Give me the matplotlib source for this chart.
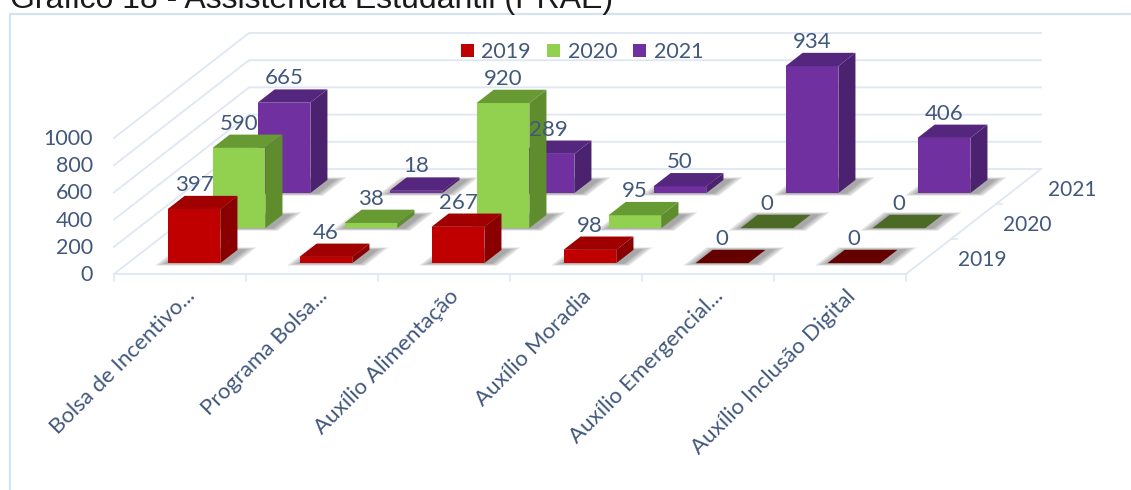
import numpy as np
import matplotlib
matplotlib.use('Agg')
import matplotlib.pyplot as plt
from matplotlib import patches

# data
categories = ['Bolsa de Incentivo...', 'Programa Bolsa...', 'Auxílio Alimentação',
              'Auxílio Moradia', 'Auxílio Emergencial...', 'Auxílio Inclusão Digital']
years = ['2019', '2020', '2021']
values_2019 = [397, 46, 267, 98, 0, 0]
values_2020 = [590, 38, 920, 95, 0, 0]
values_2021 = [665, 18, 289, 50, 934, 406]
y_ticks = [0, 200, 400, 600, 800, 1000]

# front, top, side and empty-bar colours for each year
front_colors = ['#c00000', '#92d050', '#7030a0']
top_colors = ['#a00000', '#689a33', '#55267e']
side_colors = ['#8a0000', '#5f8d2e', '#4b226f']
flat_colors = ['#650000', '#4a6a25', '#55267e']
text_color = '#41587c'
grid_color = '#dfe7f3'

# oblique projection: one depth step moves the point right and up
PX_CAT = 132.0
PX_VAL = 0.136
DX = 45.0 / PX_CAT
DY = 35.0 / PX_VAL
BAR_W = 0.40
BAR_D0 = 0.31
BAR_D1 = 0.69


def project(cat, depth, val):
    return (cat + depth * DX, val + depth * DY)


def draw_bar(ax, cat, s, val, zorder):
    x0 = cat - BAR_W / 2
    x1 = cat + BAR_W / 2
    d0 = s + BAR_D0
    d1 = s + BAR_D1

    # soft shadow on the floor, a few stacked see-through polygons
    for grow in [0.07, 0.05, 0.03, 0.012]:
        foot = [project(x0 - grow, d0 - grow, 0), project(x1 + grow + 0.05, d0 - grow, 0),
                project(x1 + grow + 0.05, d1 + grow, 0), project(x0 - grow, d1 + grow, 0)]
        ax.add_patch(patches.Polygon(foot, closed=True, fc='#555555', ec='none',
                                     alpha=0.16, zorder=zorder))

    if val == 0:
        top = [project(x0, d0, 0), project(x1, d0, 0), project(x1, d1, 0), project(x0, d1, 0)]
        ax.add_patch(patches.Polygon(top, closed=True, fc=flat_colors[s], ec='none', zorder=zorder + 0.1))
        return

    front = [project(x0, d0, 0), project(x1, d0, 0), project(x1, d0, val), project(x0, d0, val)]
    side = [project(x1, d0, 0), project(x1, d1, 0), project(x1, d1, val), project(x1, d0, val)]
    top = [project(x0, d0, val), project(x1, d0, val), project(x1, d1, val), project(x0, d1, val)]
    ax.add_patch(patches.Polygon(side, closed=True, fc=side_colors[s], ec='none', zorder=zorder + 0.1))
    ax.add_patch(patches.Polygon(front, closed=True, fc=front_colors[s], ec='none', zorder=zorder + 0.1))
    ax.add_patch(patches.Polygon(top, closed=True, fc=top_colors[s], ec='none', zorder=zorder + 0.1))


plt.rcParams['font.family'] = ['Lato', 'DejaVu Sans']

fig = plt.figure(figsize=(11.31, 4.9), dpi=100)
ax = fig.add_axes([0, 0, 1, 1])
ax.set_xlim(-114 / PX_CAT, (1131 - 114) / PX_CAT)
ax.set_ylim(-(490 - 274) / PX_VAL, 274 / PX_VAL)
ax.axis('off')

# frame of the pasted chart and the title cut by the top of the page
fig.add_artist(plt.Line2D([10 / 1131, 10 / 1131, 1], [0, 1 - 14 / 490, 1 - 14 / 490],
                          color='#d5e3f0', lw=1.6))
fig.text(10 / 1131, 1 - 8 / 490, 'Gráfico 18 - Assistência Estudantil (PRAE)', family='Liberation Sans',
         fontsize=23, color='#1a1a1a', ha='left', va='baseline')

# back wall, left wall and floor lines
n_cat = len(categories)
n_depth = len(years)
for t in y_ticks:
    xs, ys = zip(project(0, 0, t), project(0, n_depth, t), project(n_cat, n_depth, t))
    if t == 0:
        xs, ys = zip(project(0, n_depth, 0), project(n_cat, n_depth, 0))
    ax.plot(xs, ys, color=grid_color, lw=1.3, zorder=1)
    ax.text(project(0, 0, t)[0] - 21 / PX_CAT, t - 1 / PX_VAL, str(t), ha='right', va='center',
            fontsize=15.5, color=text_color, zorder=20)

xs, ys = zip(project(0, n_depth, 0), project(0, 0, 0), project(n_cat, 0, 0), project(n_cat, n_depth, 0))
ax.plot(xs, ys, color=grid_color, lw=1.3, zorder=1)
for i in range(n_cat + 1):
    ax.plot([i, i], [0, -7 / PX_VAL], color=grid_color, lw=1.2, zorder=1)
for s in range(1, n_depth):
    ax.plot([n_cat + s * DX, n_cat + s * DX + 6 / PX_CAT], [s * DY, s * DY], color=grid_color, lw=1.2, zorder=1)

# bars from the back row to the front row
all_values = [values_2019, values_2020, values_2021]
order = 2
for s in range(n_depth - 1, -1, -1):
    for i, val in enumerate(all_values[s]):
        draw_bar(ax, i + 0.5, s, val, order)
        order += 1

# value labels sit above the top of each bar
for s in range(n_depth):
    for i, val in enumerate(all_values[s]):
        lx = i + 0.5 + (s + BAR_D0) * DX
        ly = val + (s + BAR_D1) * DY + 11 / PX_VAL
        ax.text(lx, ly, str(val), ha='center', va='center', fontsize=16, color=text_color, zorder=50)

# category labels
for i, name in enumerate(categories):
    ax.text(i + 0.5 + 12 / PX_CAT, -19 / PX_VAL, name, rotation=45, rotation_mode='anchor',
            ha='right', va='center', fontsize=16, color=text_color, zorder=20)

# depth axis labels
for s, year in enumerate(years):
    ax.text(n_cat + (s + 0.5) * DX + 54 / PX_CAT, (s + 0.5) * DY - 3 / PX_VAL, year,
            ha='center', va='center', fontsize=15, color=text_color, zorder=20)

# legend
handles = [patches.Patch(fc=c, ec='none', label=y) for c, y in zip(front_colors, years)]
ax.legend(handles=handles, loc='center', bbox_to_anchor=(582 / 1131, 1 - 52 / 490), ncols=3, frameon=False,
          fontsize=15.5, labelcolor=text_color, handlelength=0.6, handleheight=0.6,
          handletextpad=0.35, columnspacing=0.75, borderpad=0)

fig.savefig('out.png', dpi=100)
